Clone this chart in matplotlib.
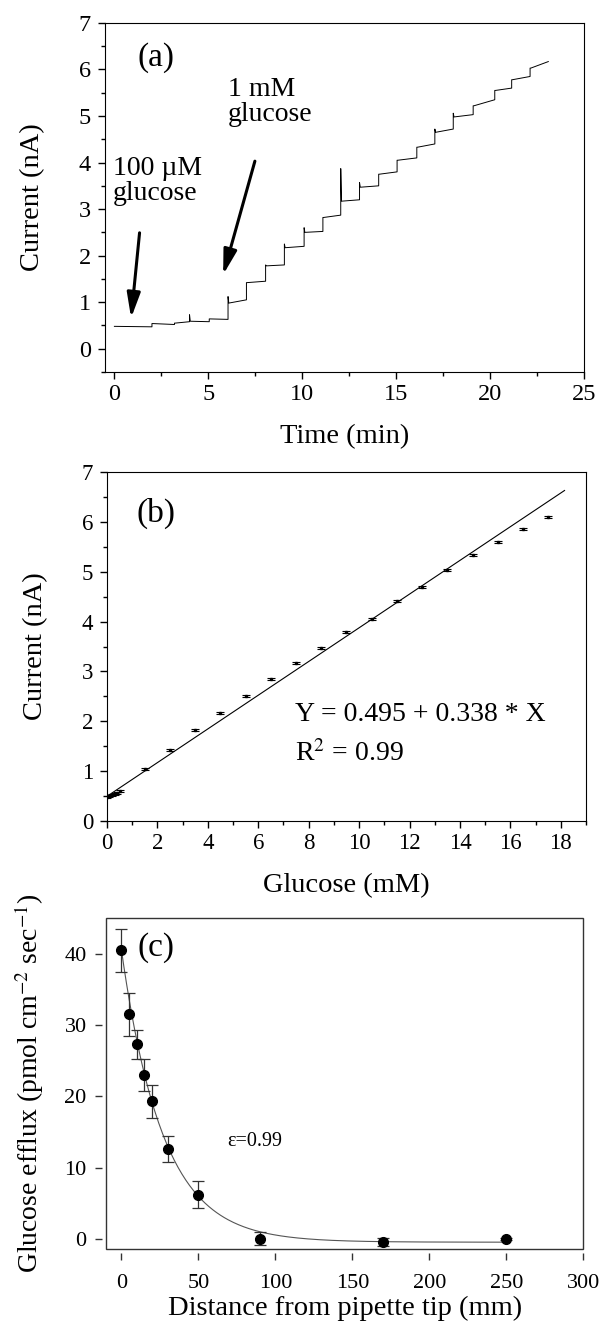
import numpy as np
import matplotlib
matplotlib.use("Agg")
import matplotlib.pyplot as plt
from matplotlib.patches import Rectangle

plt.rcParams['font.family'] = ['Liberation Serif', 'DejaVu Serif']
plt.rcParams['mathtext.fontset'] = 'stix'

# (a) amperometric trace: additions (min), plateau levels (nA)
seg_t = [0, 2.0, 3.2, 4.0, 5.05, 6.05, 7.03, 8.05, 9.05, 10.1, 11.1, 12.05,
         13.05, 14.07, 15.05, 16.1, 17.06, 18.04, 19.1, 20.25, 21.15, 22.13]
t_end = 23.1
lvl_start = [0.48, 0.54, 0.55, 0.59, 0.64, 0.98, 1.42, 1.78, 2.17, 2.50, 2.82,
             3.17, 3.47, 3.75, 4.05, 4.33, 4.65, 4.98, 5.22, 5.55, 5.78, 6.03]
lvl_end = [0.47, 0.52, 0.58, 0.58, 0.63, 1.05, 1.45, 1.80, 2.20, 2.52, 2.87,
           3.20, 3.50, 3.80, 4.10, 4.40, 4.72, 5.03, 5.35, 5.60, 5.85, 6.17]
spike = [0.48, 0.54, 0.55, 0.73, 0.64, 1.12, 1.42, 1.80, 2.25, 2.60, 2.82,
         3.87, 3.57, 3.75, 4.05, 4.33, 4.72, 5.06, 5.22, 5.55, 5.78, 6.03]

# (b) calibration
gluc = [0, 0.1, 0.2, 0.3, 0.4, 0.5, 1.5, 2.5, 3.5, 4.5, 5.5, 6.5, 7.5, 8.5,
        9.5, 10.5, 11.5, 12.5, 13.5, 14.5, 15.5, 16.5, 17.5]
cur = [0.48, 0.50, 0.52, 0.55, 0.57, 0.60, 1.05, 1.43, 1.83, 2.17, 2.51, 2.85,
       3.17, 3.48, 3.80, 4.05, 4.42, 4.69, 5.03, 5.33, 5.59, 5.85, 6.10]
cur_err = 0.02
b0, b1 = 0.495, 0.338

# (c) efflux vs distance
dist = [0, 5, 10, 15, 20, 30, 50, 90, 170, 250]
efflux = [40.5, 31.5, 27.3, 23.0, 19.3, 12.6, 6.2, 0.05, -0.45, 0.0]
efflux_err = [3.0, 3.0, 2.0, 2.2, 2.3, 1.8, 1.9, 0.95, 0.6, 0.2]
fit_a, fit_tau, fit_c = 41.0, 27.0, -0.45

fig = plt.figure(figsize=(6.01, 13.27), dpi=100)

# ---------- (a)
ax = fig.add_axes([0.1747, 0.7197, 0.797, 0.263])
tt, ii = [], []
bounds = seg_t + [t_end]
for k in range(len(seg_t)):
    tt += [bounds[k], bounds[k], bounds[k] + 0.04, bounds[k + 1]]
    ii += [lvl_end[k - 1] if k else lvl_start[0], spike[k], lvl_start[k], lvl_end[k]]
ax.plot(tt, ii, color='black', lw=0.7)
ax.set_xlim(-0.5, 25)
ax.set_ylim(-0.5, 7)
ax.set_xticks(np.arange(0, 26, 5))
ax.set_xticks(np.arange(0, 26, 2.5), minor=True)
ax.set_yticks(np.arange(0, 8, 1))
ax.set_yticks(np.arange(-0.5, 7.1, 0.5), minor=True)
ax.tick_params(labelsize=17.5)
ax.set_xlabel('Time (min)', fontsize=20.5, labelpad=14)
ax.set_ylabel('Current (nA)', fontsize=20.5, labelpad=24)
ax.text(1.25, 6.26, '(a)', fontsize=24, va='center')
ax.text(-0.1, 3.6, '100 \u00b5M\nglucose', fontsize=20, va='center', linespacing=1.0)
ax.text(6.05, 5.3, '1 mM\nglucose', fontsize=20, va='center', linespacing=1.0)
arw = dict(arrowstyle='-|>,head_length=0.75,head_width=0.2', lw=2.2,
           color='black', mutation_scale=20, shrinkA=0, shrinkB=0)
ax.annotate('', xy=(0.89, 0.66), xytext=(1.34, 2.49), arrowprops=arw)
ax.annotate('', xy=(5.79, 1.59), xytext=(7.48, 4.03), arrowprops=arw)

# ---------- (b)
bx = fig.add_axes([0.178, 0.3813, 0.797, 0.263])
bx.errorbar(gluc, cur, yerr=cur_err, fmt='s', ms=2, color='black',
            ecolor='black', elinewidth=0.8, capsize=3, capthick=0.8)
xf = np.array([0, 18.15])
bx.plot(xf, b0 + b1 * xf, color='black', lw=0.8)
bx.set_xlim(0, 19)
bx.set_ylim(0, 7)
bx.set_xticks(np.arange(0, 19, 2))
bx.set_xticks(np.arange(0, 19.1, 1), minor=True)
bx.set_yticks(np.arange(0, 8, 1))
bx.set_yticks(np.arange(0, 7.1, 0.5), minor=True)
bx.tick_params(labelsize=16.5)
bx.set_xlabel('Glucose (mM)', fontsize=20.5, labelpad=14)
bx.set_ylabel('Current (nA)', fontsize=20.5, labelpad=24)
bx.text(1.18, 6.18, '(b)', fontsize=24, va='center')
bx.text(7.47, 2.13, 'Y = 0.495 + 0.338 * X', fontsize=20, va='center')
bx.text(7.47, 1.36, 'R$^{2}$ = 0.99', fontsize=20, va='center')

for a in (ax, bx):
    a.tick_params(which='major', direction='out', length=5, width=1)
    a.tick_params(which='minor', direction='out', length=3, width=1)
    a.tick_params(axis='y', which='major', pad=5)
    a.tick_params(top=False, right=False)

# ---------- (c)
cx = fig.add_axes([0.1764, 0.0588, 0.794, 0.2494])
xs = np.linspace(0, 250, 300)
cx.plot(xs, fit_a * np.exp(-xs / fit_tau) + fit_c, color='#555555', lw=0.8)
cx.errorbar(dist, efflux, yerr=efflux_err, fmt='o', ms=7, color='black',
            ecolor='#333333', elinewidth=0.9, capsize=4, capthick=0.9)
cx.set_xlim(-10, 300)
cx.set_ylim(-1.4, 45)
cx.set_xticks(np.arange(0, 301, 50))
cx.set_yticks(np.arange(0, 41, 10))
for s in ('left', 'bottom'):
    cx.spines[s].set_position(('outward', 3))
    cx.spines[s].set_visible(False)
for s in ('top', 'right'):
    cx.spines[s].set_visible(False)
cx.add_patch(Rectangle((0, 0), 1, 1, transform=cx.transAxes, fill=False,
                       lw=1, edgecolor='#333333', clip_on=False))
cx.tick_params(direction='out', length=5, width=1, labelsize=16, color='#333333')
cx.tick_params(axis='x', pad=10)
cx.tick_params(axis='y', pad=6)
cx.set_xlabel('Distance from pipette tip (mm)', fontsize=20.5, labelpad=2)
cx.set_ylabel('Glucose efflux (pmol cm$^{-2}$ sec$^{-1}$)', fontsize=20, labelpad=13)
cx.text(10.7, 40.8, '(c)', fontsize=24, va='center')
cx.text(69, 13.7, '\u03b5=0.99', fontsize=14.5, va='center')

fig.savefig('out.png', dpi=100)
